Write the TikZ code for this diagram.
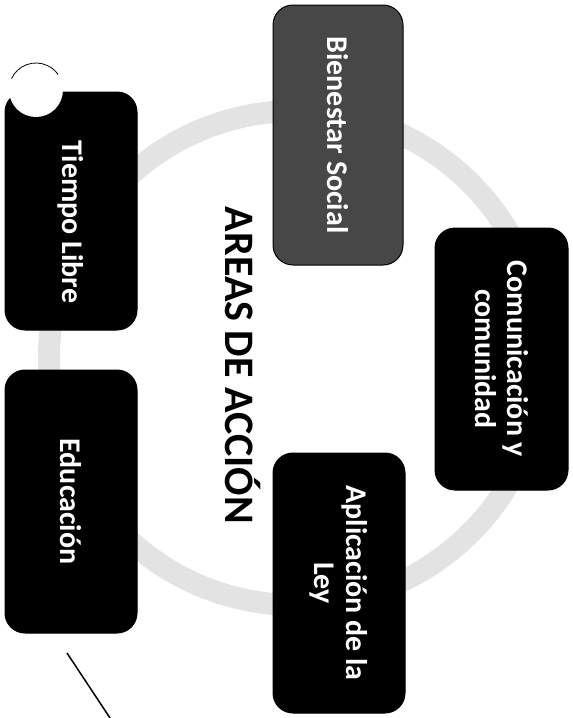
\documentclass[tikz,border=0pt]{standalone}
\usepackage{fontspec}
\setmainfont{Carlito}
\begin{document}
\begin{tikzpicture}[x=1pt,y=-1pt,
  box/.style={draw=black, line width=1pt, rounded corners=20pt, rotate=-90,
    text=white, font=\bfseries\fontsize{30}{32}\selectfont, align=center, inner sep=0pt},
  ring/.style={draw=black!11, line width=22pt},
  title/.style={rotate=-90, font=\bfseries\fontsize{42}{46}\selectfont, anchor=base, inner sep=0pt}]
\useasboundingbox (0,0) rectangle (573,718);
% background ring
\coordinate (rc) at (296,358);
\draw[ring] (rc) circle[radius=247];
% boxes
\node[box, fill=black, minimum width=238pt, minimum height=132pt] (tiempo) at (71,211) {\hspace*{22pt}Tiempo Libre};
\node[box, fill=black, minimum width=263pt, minimum height=132pt] (educ) at (71,501.5) {Educación};
\node[box, fill=black!72, minimum width=260pt, minimum height=130pt] (bien) at (338,135) {Bienestar Social};
\node[box, fill=black, minimum width=262pt, minimum height=133pt] (comu) at (501.5,359) {Comunicación y\\comunidad};
\node[box, fill=black, minimum width=260pt, minimum height=132pt] (apli) at (339,583) {Aplicación de la\\Ley};
% title
\node[title] (ttl) at (225,365.5) {AREAS DE ACCIÓN};
% white circle at top-left corner
\coordinate (wc) at (36,90);
\fill[white] (wc) circle[radius=27];
\draw[line width=0.8pt] (wc) ++(-155:27) arc[start angle=-155, end angle=-35, radius=27];
% diagonal line
\coordinate (l1) at (67,653);
\coordinate (l2) at (112,721);
\draw[line width=1.5pt] (l1) -- (l2);
\end{tikzpicture}
\end{document}
